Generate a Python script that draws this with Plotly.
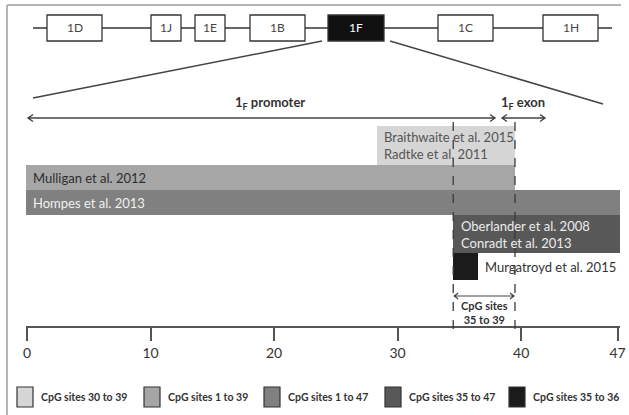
import plotly.graph_objects as go

W, H = 629, 415

# ---------------- data ----------------
exon_labels = ["1D", "1J", "1E", "1B", "1F", "1C", "1H"]
study_labels = [
    "Braithwaite et al. 2015<br>Radtke et al. 2011",
    "Mulligan et al. 2012",
    "Hompes et al. 2013",
    "Oberlander et al. 2008<br>Conradt et al. 2013",
    "Murgatroyd et al. 2015",
]
range_start = [28.3, -0.1, -0.1, 34.5, 34.5]
range_end = [39.5, 39.5, 48.0, 48.0, 36.5]
legend_labels = ["CpG sites 30 to 39", "CpG sites 1 to 39", "CpG sites 1 to 47",
                 "CpG sites 35 to 47", "CpG sites 35 to 36"]
tick_values = [0, 10, 20, 30, 40, 47.8]
tick_labels = ["0", "10", "20", "30", "40", "47"]
focus_sites = [35, 39]
focus_label = "CpG sites<br>35 to 39"

# ---------------- layout / style ----------------
FONT = "Lato"
exon_px = [(47, 102), (151, 181), (195, 225), (250, 305), (328, 384), (438, 493), (543, 598)]
bar_rows = [(126, 165), (165, 190), (190, 215), (215, 253), (253, 280)]
bar_colors = ["#d6d6d6", "#a6a6a6", "#808080", "#585858", "#1b1b1b"]
text_colors = ["#555555", "#2e2e2e", "#f0f0f0", "#ececec", "#333333"]
label_inside = [True, True, True, True, False]
legend_text_x = [39, 166, 286, 407, 531]
X_DOMAIN = [26 / W, 620 / W]
X_RANGE = [-0.08, 48]


def px(x):
    return x / W


def py(y):
    return 1 - y / H


def data_to_px(v):
    d0, d1 = X_DOMAIN[0] * W, X_DOMAIN[1] * W
    return d0 + (v - X_RANGE[0]) / (X_RANGE[1] - X_RANGE[0]) * (d1 - d0)


fig = go.Figure()

for i in range(len(study_labels)):
    top, bot = bar_rows[i]
    fig.add_trace(go.Bar(
        orientation="h",
        y=[(top + bot) / 2], x=[range_end[i] - range_start[i]], base=[range_start[i]],
        width=[bot - top], marker=dict(color=bar_colors[i], line=dict(width=0)),
        showlegend=False, hoverinfo="skip",
    ))

shapes = []
annotations = []


def note(**kw):
    kw.setdefault("xanchor", "center")
    kw.setdefault("yanchor", "middle")
    annotations.append(kw)


def double_arrow(xa, xb, y, head=5, half=3.5, color="#444444", width=1.4):
    path = (f"M {px(xa)},{py(y)} L {px(xb)},{py(y)} "
            f"M {px(xa + head)},{py(y - half)} L {px(xa)},{py(y)} L {px(xa + head)},{py(y + half)} "
            f"M {px(xb - head)},{py(y - half)} L {px(xb)},{py(y)} L {px(xb - head)},{py(y + half)}")
    shapes.append(dict(type="path", xref="paper", yref="paper", path=path,
                       line=dict(color=color, width=width)))


# frame
shapes.append(dict(type="line", xref="paper", yref="paper", x0=px(7), x1=px(621), y0=py(5), y1=py(5),
                   line=dict(color="#b4b4b4", width=2)))
shapes.append(dict(type="line", xref="paper", yref="paper", x0=px(7), x1=px(7), y0=py(5), y1=py(415),
                   line=dict(color="#b4b4b4", width=2)))

# gene diagram
shapes.append(dict(type="line", xref="paper", yref="paper", x0=px(33), x1=px(612), y0=py(28), y1=py(28),
                   line=dict(color="#333333", width=1.5)))
for lab, (a, b) in zip(exon_labels, exon_px):
    dark = lab == "1F"
    shapes.append(dict(type="rect", xref="paper", yref="paper", x0=px(a), x1=px(b), y0=py(41), y1=py(15),
                       fillcolor="#111111" if dark else "white", line=dict(color="#333333", width=1.3)))
    note(xref="paper", yref="paper", x=px((a + b) / 2), y=py(28), text=lab,
         showarrow=False, font=dict(family=FONT, size=12, color="white" if dark else "#444444"))

# expansion lines
shapes.append(dict(type="line", xref="paper", yref="paper", x0=px(322), y0=py(41), x1=px(33), y1=py(98),
                   line=dict(color="#444444", width=1.5)))
shapes.append(dict(type="line", xref="paper", yref="paper", x0=px(390), y0=py(41), x1=px(603), y1=py(104),
                   line=dict(color="#444444", width=1.5)))

# promoter / exon arrows
double_arrow(28, 495, 118)
double_arrow(502, 545, 118)
note(xref="paper", yref="paper", x=px(270), y=py(103), text="<b>1<sub>F</sub> promoter</b>",
     showarrow=False, font=dict(family=FONT, size=13, color="#333333"))
note(xref="paper", yref="paper", x=px(523), y=py(103), text="<b>1<sub>F</sub> exon</b>",
     showarrow=False, font=dict(family=FONT, size=13, color="#333333"))

# study labels
for i, lab in enumerate(study_labels):
    top, bot = bar_rows[i]
    x = (range_start[i] if label_inside[i] else range_end[i]) + 0.45
    note(xref="x", yref="y", x=x, y=(top + bot) / 2, text=lab, showarrow=False,
         xanchor="left", align="left", font=dict(family=FONT, size=13, color=text_colors[i]))

# focus region dashed lines
fx0, fx1 = focus_sites[0] - 0.5, focus_sites[1] + 0.5
for fx in (fx0, fx1):
    shapes.append(dict(type="line", xref="x", yref="y", x0=fx, x1=fx, y0=122, y1=334, layer="above",
                       line=dict(color="#3a3a3a", width=1.3, dash="dash")))
double_arrow(data_to_px(fx0) + 1, data_to_px(fx1) - 1, 296, head=4, half=3, width=1.2)
note(xref="x", yref="y", x=(fx0 + fx1) / 2, y=312, text="<b>" + focus_label + "</b>",
     showarrow=False, font=dict(family=FONT, size=11, color="#333333"))

# legend
for i, lab in enumerate(legend_labels):
    tx = legend_text_x[i]
    shapes.append(dict(type="rect", xref="paper", yref="paper", x0=px(tx - 22), x1=px(tx - 6),
                       y0=py(407), y1=py(387), fillcolor=bar_colors[i],
                       line=dict(color="#333333", width=1.2)))
    note(xref="paper", yref="paper", x=px(tx), y=py(397), text="<b>" + lab + "</b>",
         showarrow=False, xanchor="left", font=dict(family=FONT, size=10.5, color="#333333"))

fig.update_layout(
    width=W, height=H, margin=dict(l=0, r=0, t=0, b=0, autoexpand=False),
    paper_bgcolor="white", plot_bgcolor="white",
    barmode="overlay", bargap=0,
    xaxis=dict(domain=X_DOMAIN, range=X_RANGE, anchor="free", position=py(327),
               showline=True, linecolor="#555555", linewidth=1.5,
               ticks="outside", ticklen=13, tickwidth=1.5, tickcolor="#555555",
               tickvals=tick_values, ticktext=tick_labels,
               tickfont=dict(family=FONT, size=14, color="#333333"),
               showgrid=False, zeroline=False, fixedrange=True),
    yaxis=dict(domain=[0, 1], range=[H, 0], visible=False, fixedrange=True),
    shapes=shapes, annotations=annotations, showlegend=False,
)

fig.write_html("out.html", config={"displayModeBar": False},
               post_script="document.body.style.margin='0';document.body.style.overflow='hidden';")
